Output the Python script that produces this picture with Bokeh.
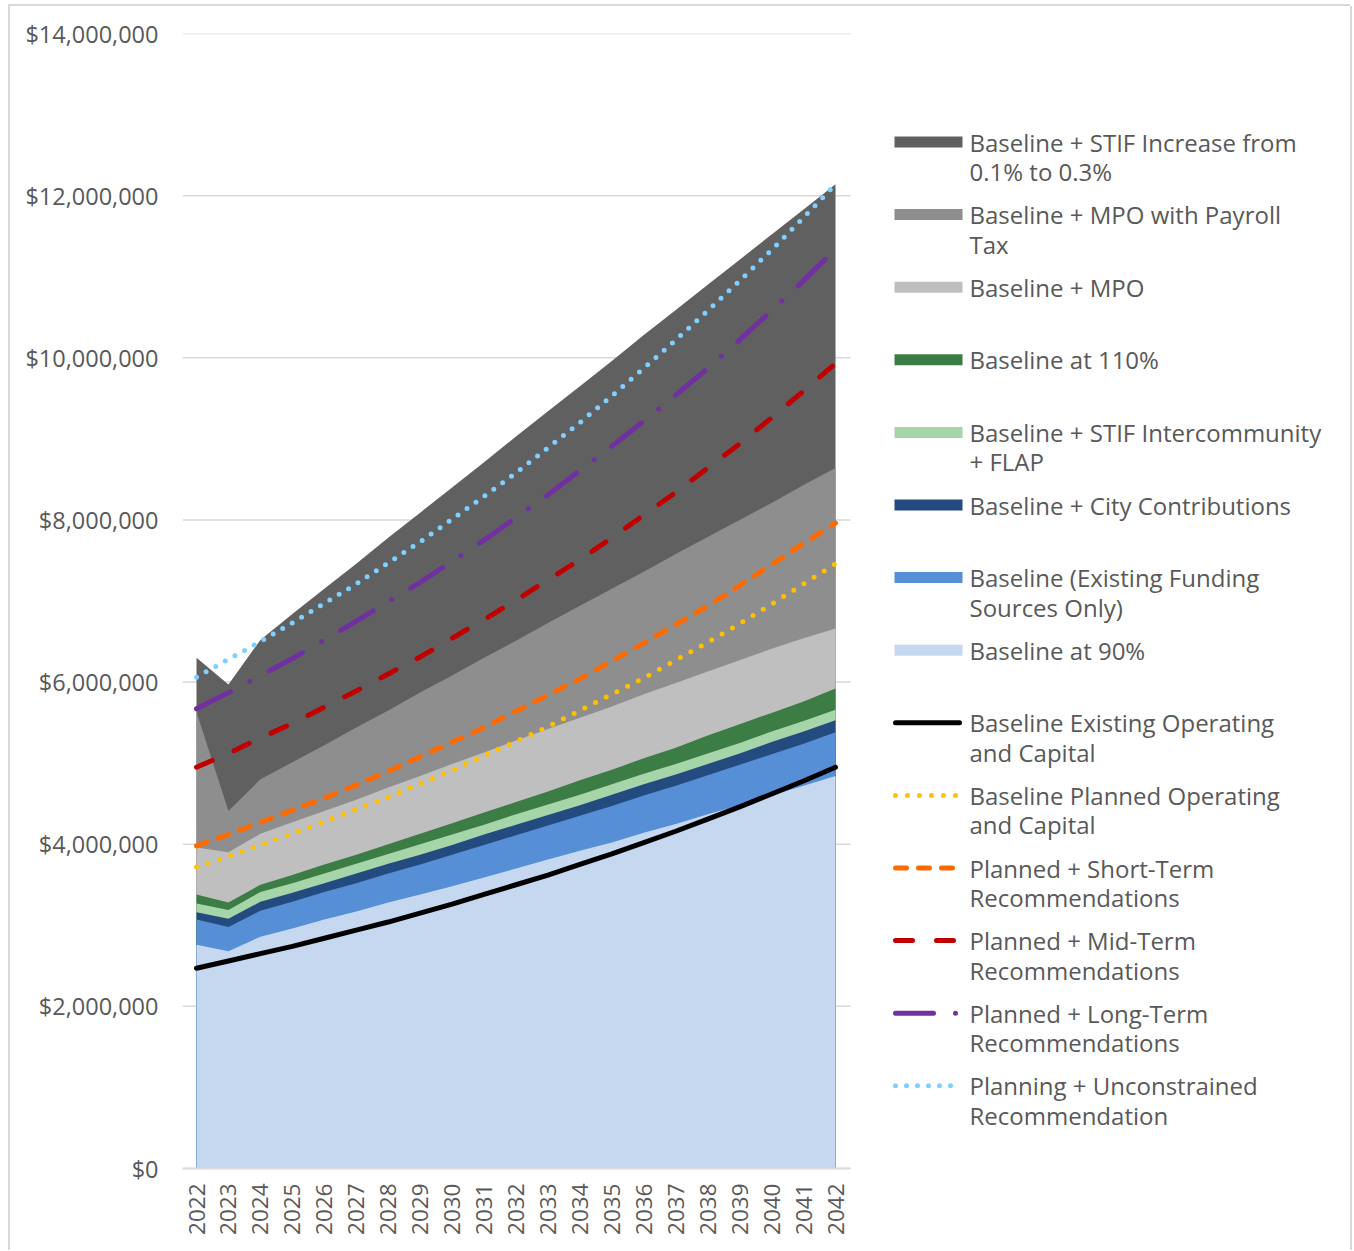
import numpy as np
from bokeh.plotting import figure
from bokeh.models import Range1d, FixedTicker
from bokeh.core.properties import value
from bokeh.embed import file_html
from bokeh.resources import INLINE

# ---------------- data (values in $ millions) ----------------
years = list(range(2022, 2043))

stif_increase = [6.30, 5.97, 6.52, 6.84, 7.15, 7.46, 7.78, 8.09, 8.40, 8.71, 9.03,
                 9.34, 9.65, 9.96, 10.28, 10.59, 10.90, 11.21, 11.52, 11.83, 12.14]
mpo_payroll = [5.63, 4.41, 4.80, 5.01, 5.22, 5.44, 5.65, 5.87, 6.08, 6.30, 6.51,
               6.73, 6.94, 7.15, 7.36, 7.58, 7.79, 8.00, 8.21, 8.43, 8.64]
mpo = [3.96, 3.90, 4.13, 4.27, 4.41, 4.55, 4.70, 4.84, 4.99, 5.13, 5.28,
       5.42, 5.56, 5.70, 5.85, 5.99, 6.13, 6.27, 6.41, 6.54, 6.66]
baseline_110 = [3.38, 3.28, 3.50, 3.62, 3.75, 3.87, 4.00, 4.13, 4.26, 4.39, 4.52,
                4.65, 4.79, 4.92, 5.06, 5.19, 5.34, 5.48, 5.62, 5.76, 5.92]
stif_intercommunity = [3.27, 3.19, 3.41, 3.52, 3.64, 3.76, 3.88, 4.00, 4.12, 4.24, 4.37,
                       4.49, 4.61, 4.74, 4.87, 4.99, 5.12, 5.25, 5.39, 5.52, 5.66]
city_contrib = [3.16, 3.08, 3.29, 3.40, 3.52, 3.64, 3.76, 3.87, 3.99, 4.12, 4.24,
                4.36, 4.48, 4.61, 4.74, 4.86, 4.99, 5.12, 5.26, 5.39, 5.53]
baseline = [3.07, 2.98, 3.18, 3.29, 3.41, 3.52, 3.64, 3.75, 3.87, 3.99, 4.11,
            4.23, 4.35, 4.47, 4.60, 4.72, 4.85, 4.98, 5.11, 5.24, 5.38]
baseline_90 = [2.76, 2.68, 2.86, 2.96, 3.07, 3.17, 3.28, 3.38, 3.48, 3.59, 3.70,
               3.81, 3.92, 4.02, 4.14, 4.25, 4.37, 4.48, 4.60, 4.72, 4.84]

existing_oc = [2.47, 2.56, 2.65, 2.74, 2.84, 2.94, 3.04, 3.15, 3.26, 3.38, 3.50,
               3.62, 3.75, 3.88, 4.02, 4.16, 4.31, 4.46, 4.62, 4.78, 4.95]
planned_oc = [3.72, 3.85, 3.99, 4.13, 4.28, 4.43, 4.58, 4.75, 4.91, 5.09, 5.27,
              5.45, 5.65, 5.85, 6.05, 6.27, 6.49, 6.72, 6.96, 7.21, 7.46]
short_term = [3.98, 4.12, 4.27, 4.42, 4.57, 4.73, 4.90, 5.08, 5.26, 5.44, 5.64,
              5.84, 6.04, 6.26, 6.48, 6.71, 6.94, 7.19, 7.45, 7.71, 7.96]
mid_term = [4.95, 5.12, 5.31, 5.49, 5.69, 5.89, 6.10, 6.31, 6.54, 6.77, 7.01,
            7.26, 7.51, 7.78, 8.06, 8.34, 8.64, 8.94, 9.26, 9.59, 9.93]
long_term = [5.67, 5.87, 6.08, 6.29, 6.52, 6.75, 6.99, 7.23, 7.49, 7.75, 8.03,
             8.31, 8.61, 8.91, 9.22, 9.54, 9.87, 10.22, 10.58, 10.95, 11.34]
unconstrained = [6.06, 6.28, 6.50, 6.73, 6.97, 7.21, 7.47, 7.73, 8.01, 8.29, 8.58,
                 8.89, 9.20, 9.53, 9.87, 10.22, 10.58, 10.95, 11.33, 11.73, 12.14]

y_ticks = [0, 2, 4, 6, 8, 10, 12, 14]

area_labels = [
    ["Baseline + STIF Increase from", "0.1% to 0.3%"],
    ["Baseline + MPO with Payroll", "Tax"],
    ["Baseline + MPO"],
    ["Baseline at 110%"],
    ["Baseline + STIF Intercommunity", "+ FLAP"],
    ["Baseline + City Contributions"],
    ["Baseline (Existing Funding", "Sources Only)"],
    ["Baseline at 90%"],
]
line_labels = [
    ["Baseline Existing Operating", "and Capital"],
    ["Baseline Planned Operating", "and Capital"],
    ["Planned + Short-Term", "Recommendations"],
    ["Planned + Mid-Term", "Recommendations"],
    ["Planned + Long-Term", "Recommendations"],
    ["Planning + Unconstrained", "Recommendation"],
]

# ---------------- styles ----------------
area_series = [stif_increase, mpo_payroll, mpo, baseline_110,
               stif_intercommunity, city_contrib, baseline, baseline_90]
area_colors = ["#606060", "#8e8e8e", "#bfbfbf", "#3b7d44",
               "#a6d5a9", "#234b80", "#568fd6", "#c5d8f0"]

line_series = [existing_oc, planned_oc, short_term, mid_term, long_term, unconstrained]
line_styles = [
    dict(color="#000000", width=5, dash="solid"),
    dict(color="#ffc000", width=5, dash="0 12"),
    dict(color="#ff6a00", width=5, dash="11 12"),
    dict(color="#c00000", width=5, dash="17 24"),
    dict(color="#7030a0", width=5, dash="38 22 0 22"),
    dict(color="#7dd0ff", width=5, dash="0 11"),
]

FONT = "Open Sans"
TXT = "#595959"
GRID = "#d9d9d9"

# ---------------- geometry (page pixels) ----------------
OX, OY = 10, 6          # canvas offset on page
W, H = 1340, 1244       # canvas size
FL, FT, FB, FR = 182, 33, 1168, 1346   # frame edges on page
PX_PER_YEAR = 31.95
X0 = years[0] - (196 - FL) / PX_PER_YEAR
X1 = X0 + (FR - FL) / PX_PER_YEAR
YMAX = 14.0


def dx(px):
    return X0 + (px - FL) / PX_PER_YEAR


def dy(py):
    return (FB - py) / (FB - FT) * YMAX


p = figure(width=W, height=H, x_range=Range1d(X0, X1), y_range=Range1d(0, YMAX),
           output_backend="svg", toolbar_location=None,
           min_border_left=FL - OX, min_border_right=OX + W - FR,
           min_border_top=FT - OY, min_border_bottom=OY + H - FB,
           styles={"margin-left": f"{OX}px", "margin-top": f"{OY}px",
                   "box-shadow": f"-2px 0 0 0 {GRID}, 0 -2px 0 0 {GRID}, "
                                 f"2px 0 0 0 {GRID}, -2px -2px 0 0 {GRID}"})
p.outline_line_color = None
p.xgrid.visible = False
p.ygrid.visible = False
p.background_fill_color = "white"
p.border_fill_color = "white"

plot_right = dx(850)

# gridlines
p.segment(x0=[X0] * len(y_ticks), x1=[plot_right] * len(y_ticks),
          y0=y_ticks, y1=y_ticks, line_color=GRID, line_width=1.5)

# areas (overlapping totals, largest in back)
for series, col in zip(area_series, area_colors):
    p.varea(x=years, y1=[0] * len(years), y2=series, fill_color=col)

# lines
for series, st in zip(line_series, line_styles):
    p.line(years, series, line_color=st["color"], line_width=st["width"],
           line_dash=st["dash"], line_cap="round", line_join="round")

# axes
p.yaxis.ticker = FixedTicker(ticks=y_ticks)
p.yaxis.major_label_overrides = {t: f"${t * 1_000_000:,.0f}" for t in y_ticks}
p.yaxis.axis_line_color = None
p.yaxis.major_tick_line_color = None
p.yaxis.minor_tick_line_color = None
p.yaxis.major_tick_out = 0
p.yaxis.major_label_standoff = 24
p.yaxis.major_label_text_font = FONT
p.yaxis.major_label_text_font_size = "23.5px"
p.yaxis.major_label_text_color = TXT

p.xaxis.ticker = FixedTicker(ticks=years)
p.xaxis.major_label_overrides = {y: str(y) for y in years}
p.xaxis.bounds = (X0, plot_right)
p.xaxis.axis_line_color = GRID
p.xaxis.axis_line_width = 2
p.xaxis.major_tick_line_color = None
p.xaxis.minor_tick_line_color = None
p.xaxis.major_tick_out = 0
p.xaxis.major_label_orientation = np.pi / 2
p.xaxis.major_label_standoff = 15
p.xaxis.major_label_text_font = FONT
p.xaxis.major_label_text_font_size = "22.5px"
p.xaxis.major_label_text_color = TXT

# legend (drawn manually, positions in page pixels)
LEG_Y0, LEG_PITCH, LINE_H = 141.5, 72.6, 29.5
SW_L, SW_R, TX = 894, 962, 969
tx, ty, tt = [], [], []
for i, lines in enumerate(area_labels + line_labels):
    yc = LEG_Y0 + i * LEG_PITCH
    for j, s in enumerate(lines):
        tx.append(dx(TX))
        ty.append(dy(yc + j * LINE_H))
        tt.append(s)
    if i < len(area_labels):
        p.quad(left=dx(SW_L), right=dx(SW_R), top=dy(yc - 5.5), bottom=dy(yc + 5.5),
               fill_color=area_colors[i], line_color=None)
    else:
        st = line_styles[i - len(area_labels)]
        p.line([dx(SW_L + 1), dx(SW_R - 3)], [dy(yc), dy(yc)], line_color=st["color"],
               line_width=st["width"], line_dash=st["dash"], line_cap="round")

p.text(x=tx, y=ty, text=tt, text_font=value(FONT), text_font_size="24px",
       text_color=TXT, text_baseline="middle", text_align="left")

open("out.html", "w").write(file_html(p, INLINE))
